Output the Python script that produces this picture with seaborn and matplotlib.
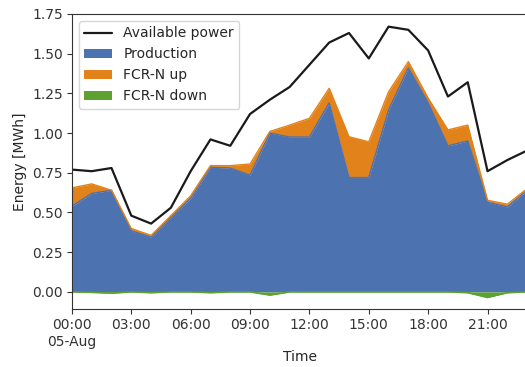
import seaborn as sns
import matplotlib.pyplot as plt
import matplotlib.dates as mdates
import matplotlib.ticker as mticker
import numpy as np
import pandas as pd

# --- data (hourly, 05-Aug) ---
hours = list(range(24))
available = [0.77, 0.76, 0.78, 0.48, 0.43, 0.53, 0.76, 0.96, 0.92, 1.12, 1.21, 1.29,
             1.43, 1.57, 1.63, 1.47, 1.67, 1.65, 1.52, 1.23, 1.32, 0.76, 0.83, 0.89]
production = [0.54, 0.62, 0.64, 0.385, 0.345, 0.47, 0.59, 0.785, 0.78, 0.735, 1.0, 0.975,
              0.975, 1.19, 0.72, 0.72, 1.145, 1.41, 1.19, 0.92, 0.95, 0.565, 0.535, 0.64]
fcr_up = [0.115, 0.06, 0.0, 0.014, 0.011, 0.01, 0.015, 0.01, 0.015, 0.07, 0.01, 0.075,
          0.118, 0.092, 0.257, 0.225, 0.115, 0.04, 0.03, 0.1, 0.1, 0.012, 0.017, 0.01]
fcr_down = [0.0, -0.003, -0.008, 0.0, -0.005, 0.0, 0.0, -0.005, 0.0, 0.0, -0.02, 0.0,
            0.0, 0.0, 0.0, 0.0, 0.0, 0.0, 0.0, 0.0, -0.005, -0.035, -0.005, 0.0]

times = pd.Timestamp("2021-08-05") + pd.to_timedelta(hours, unit="h")
df = pd.DataFrame({
    "Time": times,
    "Available power": available,
    "Production": production,
    "FCR-N up": fcr_up,
    "FCR-N down": fcr_down,
})

sns.set_style("ticks")
plt.rcParams["font.family"] = ["DejaVu Sans"]

blue, orange, green = "#4C72B0", "#E2821A", "#5DA130"

fig = plt.figure(figsize=(5.25, 3.67), dpi=100)
ax = fig.add_axes([0.137, 0.157, 0.867, 0.805])

# stacked areas (positive stack upward, negative stack downward)
x = mdates.date2num(df["Time"])
prod = df["Production"].to_numpy()
up_top = prod + df["FCR-N up"].to_numpy()
down = df["FCR-N down"].to_numpy()

ax.fill_between(x, 0, prod, color=blue, lw=0, label="Production")
ax.plot(x, prod, color=blue, lw=1)
ax.fill_between(x, prod, up_top, color=orange, lw=0, label="FCR-N up")
ax.plot(x, up_top, color=orange, lw=1)
ax.fill_between(x, 0, down, color=green, lw=0, label="FCR-N down")
ax.plot(x, down, color=green, lw=1.2)

sns.lineplot(data=df, x="Time", y="Available power", color="#1a1a1a", lw=1.6,
             label="Available power", ax=ax)

ax.set_xlim(x[0], x[-1])
ax.set_ylim(-0.11, 1.75)
ax.yaxis.set_major_locator(mticker.MultipleLocator(0.25))
ax.yaxis.set_major_formatter(mticker.FormatStrFormatter("%.2f"))

ax.xaxis.set_major_locator(mdates.HourLocator(byhour=range(0, 24, 3)))


def fmt(val, pos):
    d = mdates.num2date(val)
    if d.hour == 0:
        return d.strftime("%H:%M\n%d-%b")
    return d.strftime("%H:%M")


ax.xaxis.set_major_formatter(mticker.FuncFormatter(fmt))
ax.tick_params(labelsize=10, colors="#333333", labelcolor="#333333", pad=3)

ax.set_xlabel("Time", labelpad=1)
ax.set_ylabel("Energy [MWh]")
for s in ax.spines.values():
    s.set_visible(True)
    s.set_color("#333333")

h, l = ax.get_legend_handles_labels()
order = ["Available power", "Production", "FCR-N up", "FCR-N down"]
hh = [h[l.index(n)] for n in order]
ax.legend(hh, order, loc="upper left", fontsize=10, frameon=True)

fig.savefig("out.png", dpi=100)
